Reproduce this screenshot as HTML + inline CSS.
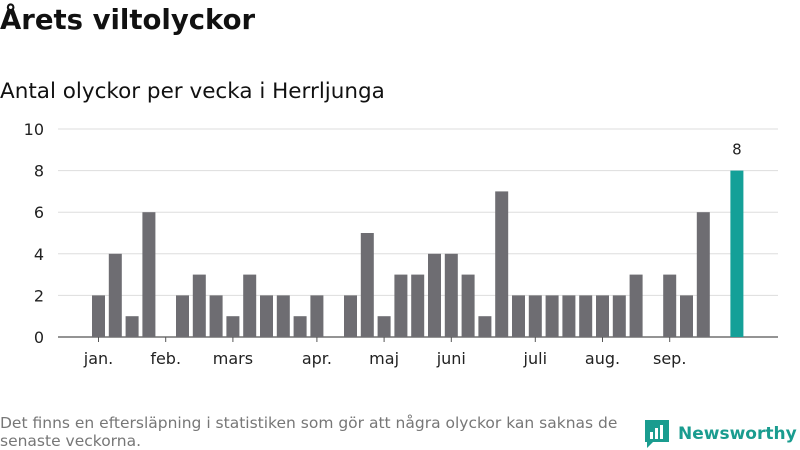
<!DOCTYPE html>
<html><head><meta charset="utf-8"><style>
body{margin:0;width:800px;height:450px;background:#fff;font-family:"DejaVu Sans","Liberation Sans",sans-serif;overflow:hidden;position:relative}
.t{position:absolute;left:0;top:4px;font-size:27.5px;font-weight:bold;color:#111}
.s{position:absolute;left:0;top:79px;font-size:21.5px;color:#111}
.f{position:absolute;left:0;top:414px;font-size:15.5px;color:#777;line-height:18px;width:650px}
.logo{position:absolute;left:645px;top:420px;display:flex;align-items:center;color:#1a9c8f;font-size:17px;font-weight:bold}
</style></head><body>
<div class="t">Årets viltolyckor</div>
<div class="s">Antal olyckor per vecka i Herrljunga</div>
<svg id="c" width="800" height="450" style="position:absolute;left:0;top:0"></svg>
<div class="f">Det finns en eftersläpning i statistiken som gör att några olyckor kan saknas de senaste veckorna.</div>
<div class="logo"><svg width="24" height="28" viewBox="0 0 24 28"><path d="M0 0h24v22H8l-6 6v-6H0z" fill="#1a9c8f"/><rect x="5" y="12" width="3" height="7" fill="#fff"/><rect x="10" y="8" width="3" height="11" fill="#fff"/><rect x="15" y="5" width="3" height="14" fill="#fff"/></svg><span style="margin-left:9px">Newsworthy</span></div>
<script>
const values=[2,4,1,6,0,2,3,2,1,3,2,2,1,2,0,2,5,1,3,3,4,4,3,1,7,2,2,2,2,2,2,2,3,0,3,2,6,0,8];
const yTicks=[0,2,4,6,8,10];
const months=["jan.","feb.","mars","apr.","maj","juni","juli","aug.","sep."];
const monthIdx=[0,4,8,13,17,21,26,30,34];
const NS="http://www.w3.org/2000/svg",svg=document.getElementById('c');
const y=v=>337-v*20.8, x=i=>92+i*16.8, bw=13;
function mk(t,a){const e=document.createElementNS(NS,t);for(const k in a)e.setAttribute(k,a[k]);svg.appendChild(e);return e;}
yTicks.forEach(v=>{
 const l=mk('line',{x1:58,x2:778,y1:y(v),y2:y(v),stroke:v?'#ddd':'#555','stroke-width':v?1:1.2});
 
 
 const t=mk('text',{x:44,y:y(v)+6,'text-anchor':'end','font-size':16,fill:'#222'});t.textContent=v;
 
 
});
values.forEach((v,i)=>{
 if(!v)return;
 const last=i===values.length-1;
 const r=mk('rect',{x:x(i),y:y(v),width:bw,height:v*20.8,fill:last?'#14a098':'#6e6d72'});
 
 
 if(last){const t=mk('text',{x:x(i)+bw/2,y:y(v)-16,'text-anchor':'middle','font-size':15,fill:'#222'});t.textContent=v;
  
  }
});
months.forEach((m,k)=>{
 const cx=x(monthIdx[k])+bw/2;
 const tk=mk('line',{x1:cx,x2:cx,y1:337,y2:342,stroke:'#555'});
 
 
 const t=mk('text',{x:cx,y:364,'text-anchor':'middle','font-size':16,fill:'#222'});t.textContent=m;
 
 
});
</script>
</body></html>
